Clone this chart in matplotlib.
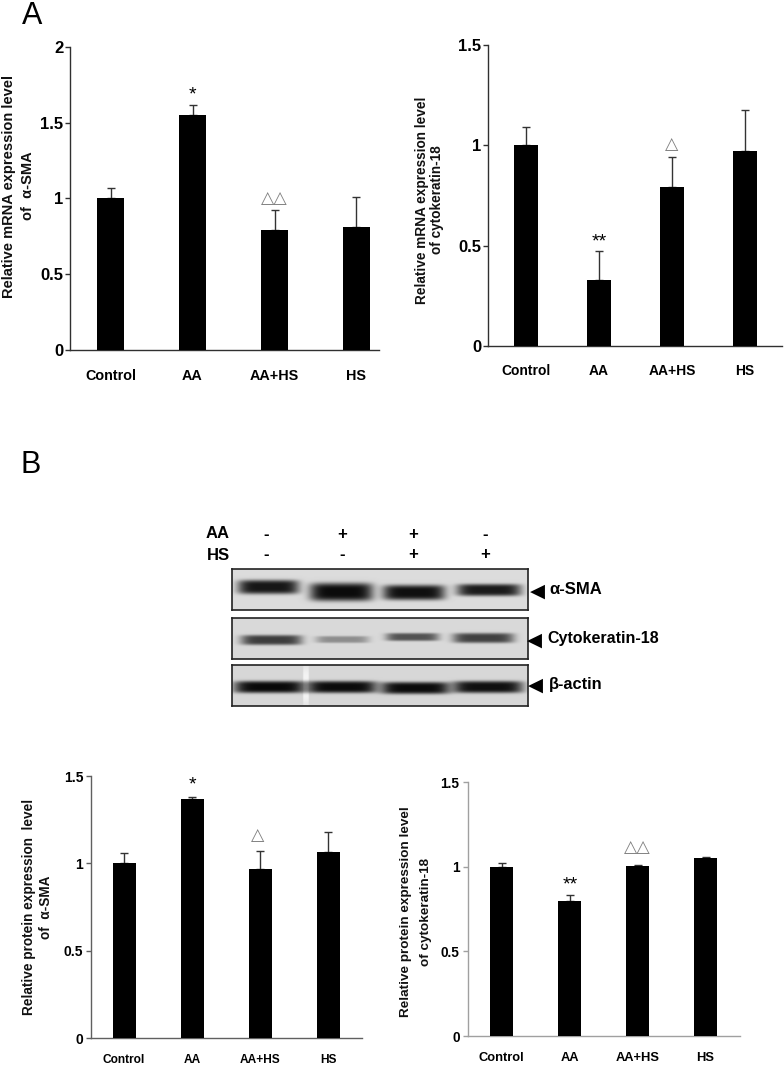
import numpy as np
import matplotlib
matplotlib.use("Agg")
import matplotlib.pyplot as plt

plt.rcParams['font.family'] = ['Liberation Sans', 'DejaVu Sans']

W, H = 784, 1066
categories = ['Control', 'AA', 'AA+HS', 'HS']

a1_means = [1.0, 1.55, 0.79, 0.815]
a1_errs = [0.07, 0.07, 0.135, 0.195]
a2_means = [1.0, 0.33, 0.79, 0.97]
a2_errs = [0.09, 0.145, 0.15, 0.205]
b1_means = [1.0, 1.37, 0.965, 1.065]
b1_errs = [0.06, 0.012, 0.105, 0.115]
b2_means = [1.0, 0.795, 1.005, 1.05]
b2_errs = [0.02, 0.035, 0.007, 0.005]

a1_ticks = [0, 0.5, 1, 1.5, 2]
other_ticks = [0, 0.5, 1, 1.5]
tick_text_a1 = ['0', '0.5', '1', '1.5', '2']
tick_text = ['0', '0.5', '1', '1.5']

# Blot bands: left, right, top, bottom in pixels, darkness
sma_bands = [(238, 299, 580, 594, .90), (310, 373, 583, 601, .95),
             (383, 445, 585, 600, .93), (457, 521, 584, 596, .88)]
ck_bands = [(241, 302, 635, 645, .72), (316, 369, 636, 643, .35),
            (386, 439, 633, 641, .62), (453, 514, 633, 643, .70)]
actin_bands = [(234, 305, 681, 693, .96), (307, 377, 681, 693, .95),
               (381, 450, 682, 694, .95), (453, 523, 681, 693, .93),
               (303, 309, 665, 706, -.14)]

fig = plt.figure(figsize=(W / 100, H / 100), dpi=100, facecolor='white')


def px_axes(left, right, top, bottom, **kw):
    return fig.add_axes([left / W, 1 - bottom / H, (right - left) / W, (bottom - top) / H], **kw)


def txt(x, y, s, **kw):
    kw.setdefault('ha', 'center')
    kw.setdefault('va', 'center')
    kw.setdefault('fontweight', 'bold')
    fig.text(x / W, 1 - y / H, s, **kw)


def panel(left, right, top, bottom, centers, bar_px, means, errs, ymax, ticks, labels,
          axis_col, xfs, yfs, xpad, ypad):
    ax = px_axes(left, right, top, bottom)
    spacing = centers[1] - centers[0]
    x0 = (left - centers[0]) / spacing
    x1 = (right - centers[0]) / spacing
    ax.set_xlim(x0, x1)
    ax.set_ylim(0, ymax)
    xs = np.arange(len(means))
    ax.bar(xs, means, width=bar_px / spacing, color='black', linewidth=0, zorder=3,
           yerr=[np.zeros(len(errs)), errs], ecolor='#333333',
           error_kw=dict(elinewidth=1.0, capsize=2.6, capthick=1.0, zorder=2))
    for s in ('top', 'right'):
        ax.spines[s].set_visible(False)
    for s in ('left', 'bottom'):
        ax.spines[s].set_color(axis_col)
        ax.spines[s].set_linewidth(1.0)
    ax.set_xticks(xs, categories, fontweight='bold', fontsize=xfs)
    ax.set_yticks(ticks, labels, fontweight='bold', fontsize=yfs)
    ax.tick_params(axis='x', length=0, pad=xpad)
    ax.tick_params(axis='y', length=3.6, width=1.0, color=axis_col, pad=ypad)
    return ax


panel(70, 379, 47, 350, [110.5, 192.5, 274.5, 355.5], 27, a1_means, a1_errs, 2, a1_ticks,
      tick_text_a1, '#303030', 10.4, 12, 13.5, 1)
panel(488, 782, 45, 346, [526, 599, 672, 745], 24.5, a2_means, a2_errs, 1.5, other_ticks,
      tick_text, '#303030', 10, 12, 13, 1)
panel(91, 362, 776, 1038, [124, 192, 260, 328], 23, b1_means, b1_errs, 1.5, other_ticks,
      tick_text, '#606060', 8.6, 10, 11.5, 2)
panel(468, 740, 782, 1036, [501.5, 569.5, 637.5, 705.5], 23, b2_means, b2_errs, 1.5, other_ticks,
      tick_text, '#a0a0a0', 9.3, 9.8, 11.5, 2.5)

# Panel letters
txt(32, 16, 'A', fontsize=22, fontweight='normal')
txt(31, 465, 'B', fontsize=22, fontweight='normal')

# Y axis titles
txt(9, 186, 'Relative mRNA expression level', rotation=90, fontsize=10.5, color='#111111')
txt(28.5, 186, 'of  α-SMA', rotation=90, fontsize=10.5, color='#111111')
txt(422, 200, 'Relative mRNA expression level', rotation=90, fontsize=9.8, color='#111111')
txt(437.5, 200, 'of cytokeratin-18', rotation=90, fontsize=9.8, color='#111111')
txt(29.5, 907, 'Relative protein expression  level', rotation=90, fontsize=9.8, color='#111111')
txt(46.5, 907, 'of  α-SMA', rotation=90, fontsize=9.8, color='#111111')
txt(406.5, 912, 'Relative protein expression level', rotation=90, fontsize=9.7, color='#111111')
txt(425.5, 912, 'of cytokeratin-18', rotation=90, fontsize=9.7, color='#111111')

# Significance marks
mark = dict(fontweight='normal')
tri = dict(fontweight='normal', color='#808080', family='DejaVu Sans')
txt(192, 95, '*', fontsize=14, **mark)
txt(274, 198, '△△', fontsize=12.5, **tri)
txt(599, 242, '**', fontsize=14, **mark)
txt(672, 144, '△', fontsize=12.5, **tri)
txt(192, 785, '*', fontsize=14, **mark)
txt(258, 835, '△', fontsize=12.5, **tri)
txt(570, 885, '**', fontsize=14, **mark)
txt(637, 847, '△△', fontsize=12.5, **tri)

# Western blot
def blot(top, bottom, bands, bg):
    left, right = 232, 528
    ax = px_axes(left, right, top, bottom)
    xx, yy = np.meshgrid(np.arange(left, right) + .5, np.arange(top, bottom) + .5)
    img = np.full(xx.shape, bg, dtype=float)
    for x0, x1, y0, y1, dark in bands:
        cx, cy = (x0 + x1) / 2, (y0 + y1) / 2
        hx, hy = (x1 - x0) / 2, (y1 - y0) / 2
        v = np.exp(-np.abs((xx - cx) / hx) ** 6 - np.abs((yy - cy) / hy) ** 4)
        img = img * (1 - dark * v)
    ax.imshow(img, cmap='gray', vmin=0, vmax=1, aspect='auto',
              extent=(left, right, bottom, top), interpolation='bilinear')
    ax.set_xticks([])
    ax.set_yticks([])
    for s in ax.spines.values():
        s.set_linewidth(1.2)
        s.set_color('#222222')


blot(569, 610, sma_bands, .86)
blot(618, 659, ck_bands, .85)
blot(665, 706, actin_bands, .84)

lanes = [266, 342, 413, 485]
aa_signs = ['-', '+', '+', '-']
hs_signs = ['-', '-', '+', '+']
txt(218, 534, 'AA', fontsize=12)
txt(218, 555, 'HS', fontsize=12)
for x, a, h in zip(lanes, aa_signs, hs_signs):
    txt(x, 534, a, fontsize=12)
    txt(x, 555, h, fontsize=12)

for y, lab, xl, xa, fs in [(591, 'α-SMA', 549, 537.5, 12), (640, 'Cytokeratin-18', 547, 534.5, 11.5),
                           (685, 'β-actin', 549, 535.5, 11.8)]:
    txt(xa, y, '◀', fontsize=14, fontweight='normal', family='DejaVu Sans', color='black')
    txt(xl, y - 1, lab, fontsize=fs, ha='left')

fig.savefig('out.png', dpi=100, facecolor='white')
